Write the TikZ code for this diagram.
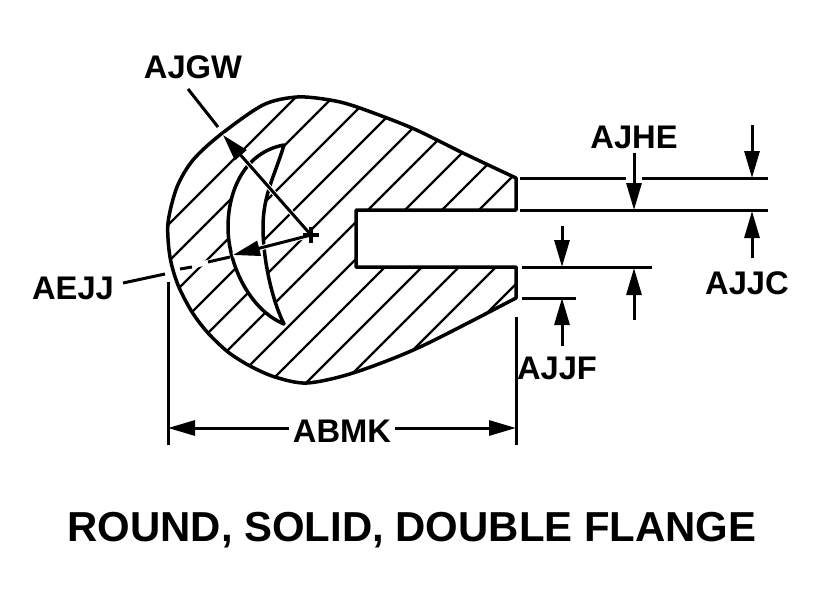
\documentclass[tikz,border=0pt]{standalone}
\usepackage{fontspec}
\setmainfont{Liberation Sans}
\usetikzlibrary{arrows.meta}

\def\bulboutline{(516,178) -- plot[smooth] coordinates {(516,178) (463,153) (412,128) (357,107) (330,100) (297,97) (263,105) (220,135) (193,160) (177,187) (168,223) (170,257) (178,285) (192,312) (208,333) (228,352) (250,366) (275,377) (307,383) (353,373) (420,347) (516,298)} -- (516,267) -- (356,267) -- (356,210) -- (516,210) -- cycle}
\def\crescentoutline{(284,145) .. controls (245,152) and (228,190) .. (228,227) .. controls (228,265) and (250,310) .. (284,324) .. controls (272,300) and (263,260) .. (263,227) .. controls (263,195) and (275,175) .. (284,145) -- cycle}

\begin{document}
\begin{tikzpicture}[x=1pt,y=-1pt,line join=round]

%
% Styles
%
\tikzstyle{outline} = [line width=3.5pt]
\tikzstyle{hatch}   = [line width=2.4pt]
\tikzstyle{thin}    = [line width=3pt]
\tikzstyle{edge}    = [thin,-{Triangle[length=27pt,width=15pt]}]
\tikzstyle{halo}    = [draw=white,line width=5pt]
\tikzstyle{label}   = [font=\fontsize{32.7}{32.7}\selectfont\bfseries,inner sep=4pt]
\tikzstyle{caption} = [font=\fontsize{41.9}{41.9}\selectfont\bfseries,inner sep=0pt,anchor=base]

\useasboundingbox (0,0) rectangle (825,600);

% section
\begin{scope}
\clip \bulboutline;
\foreach \c in {393,430,...,810}
  \draw[hatch] (\c-90,90) -- (\c-400,400);
\end{scope}
\fill[white] \crescentoutline;
\draw[outline] \crescentoutline;
\draw[outline] \bulboutline;

% labels
\node[label] (ajgw) at (193,67)  {AJGW};
\node[label] (ajhe) at (634,137) {AJHE};
\node[label] (ajjc) at (747,283) {AJJC};
\node[label] (ajjf) at (557,368) {AJJF};
\node[label] (aejj) at (73,288)  {AEJJ};
\node[label] (abmk) at (342,431) {ABMK};
\node[caption] (title) at (412,541) {ROUND, SOLID, DOUBLE FLANGE};

% radius leaders
\coordinate (center)   at (311,235);
\coordinate (ajgwtail) at (188,89);
\coordinate (ajgwend)  at (218,127);
\coordinate (ajgwtip)  at (223,135);
\coordinate (aejjtip)  at (233,255);
\coordinate (aejjtail) at (123,283);
\coordinate (aejjend)  at (165,274);
\coordinate (dasha)    at (180,269);
\coordinate (dashb)    at (192,267);
\coordinate (dashc)    at (208,262);
\coordinate (dashd)    at (230,257);

\draw[halo] (center) -- (ajgwtip);
\draw[halo] (center) -- (aejjtip);
\draw[edge] (center) -- (ajgwtip);
\draw[edge] (center) -- (aejjtip);
\draw[thin] (ajgwtail) -- (ajgwend);
\draw[thin] (aejjtail) -- (aejjend);
\draw[halo] (dasha) -- (dashd);
\draw[thin] (dasha) -- (dashb);
\draw[thin] (dashc) -- (dashd);
\draw[outline] (303,235) -- (319,235);
\draw[outline] (311,227) -- (311,243);

% extension lines
\coordinate (topa)  at (520,178);
\coordinate (topb)  at (626,178);
\coordinate (topc)  at (642,178);
\coordinate (topd)  at (768,178);
\coordinate (upa)   at (520,210);
\coordinate (upb)   at (768,210);
\coordinate (lowa)  at (522,267);
\coordinate (lowb)  at (652,267);
\coordinate (basea) at (522,298);
\coordinate (baseb) at (576,298);

\draw[thin] (topa) -- (topb);
\draw[thin] (topc) -- (topd);
\draw[thin] (upa)  -- (upb);
\draw[thin] (lowa) -- (lowb);
\draw[thin] (basea) -- (baseb);

% thickness arrows
\coordinate (ajjea) at (752,125);
\coordinate (ajjeb) at (752,178);
\coordinate (ajjca) at (752,258);
\coordinate (ajjcb) at (752,211);
\coordinate (ajhea) at (634,210);
\coordinate (ajjfa) at (562,226);
\coordinate (ajjfb) at (562,267);
\coordinate (ajjfc) at (562,346);
\coordinate (ajjfd) at (562,298);
\coordinate (ajjga) at (634,320);
\coordinate (ajjgb) at (634,268);

\draw[edge] (ajjea) -- (ajjeb);
\draw[edge] (ajjca) -- (ajjcb);
\draw[edge] (ajhe.south) -- (ajhea);
\draw[edge] (ajjfa) -- (ajjfb);
\draw[edge] (ajjfc) -- (ajjfd);
\draw[edge] (ajjga) -- (ajjgb);

% width
\coordinate (lefta)  at (168,282);
\coordinate (leftb)  at (168,445);
\coordinate (righta) at (516,317);
\coordinate (rightb) at (516,445);
\coordinate (dimleft)  at (168,428);
\coordinate (dimright) at (516,428);

\draw[thin] (lefta) -- (leftb);
\draw[thin] (righta) -- (rightb);
\draw[edge] (abmk.west |- dimleft)  -- (dimleft);
\draw[edge] (abmk.east |- dimright) -- (dimright);

\end{tikzpicture}
\end{document}
